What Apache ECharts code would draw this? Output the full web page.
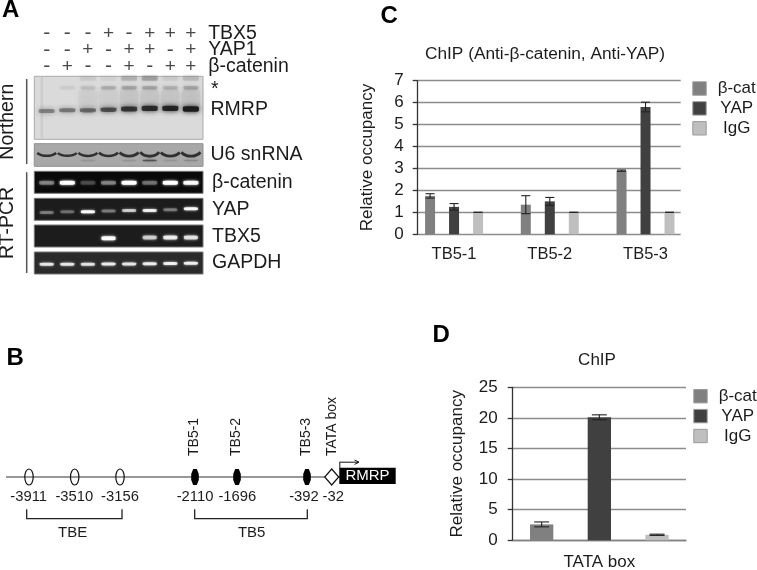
<!DOCTYPE html>
<html><head><meta charset="utf-8">
<style>html,body{margin:0;padding:0;background:#fff}#c{width:757px;height:570px;filter:blur(0.45px)}</style>
<script src="https://cdn.jsdelivr.net/npm/echarts@6/dist/echarts.min.js"></script>
</head><body><div id="c"></div>
<script>
// ---------- panel C / D data ----------
const siteCats = ['TB5-1','TB5-2','TB5-3'];
const cBeta = [1.75,1.35,2.9];
const cYap  = [1.25,1.5,5.8];
const cIgg  = [1,1,1];
const cBetaErr = [0.1,0.41,0.03];
const cYapErr  = [0.15,0.18,0.22];
const cIggErr  = [0,0,0];
const tataCats = ['TATA box'];
const dBeta = [2.6];
const dYap  = [20.1];
const dIgg  = [0.9];
const dBetaErr = [0.4];
const dYapErr  = [0.4];
const dIggErr  = [0.1];
const seriesNames = ['β-cat','YAP','IgG'];
// ---------- panel A data ----------
const lanes = ['1','2','3','4','5','6','7','8'];
const signRows = ['β-catenin','YAP1','TBX5'];
const signTbx5 = ['-','-','-','+','-','+','+','+'];
const signYap1 = ['-','-','+','-','+','+','-','+'];
const signBcat = ['-','+','-','-','+','-','+','+'];
const rmrpBand  = [0.36,0.42,0.48,0.62,0.78,0.85,0.9,1];
const rmrpPos   = [0.55,0.54,0.54,0.53,0.52,0.51,0.51,0.52];
const starBand  = [0,0.05,0.09,0.16,0.2,0.2,0.15,0.2];
const topBand   = [0,0,0.06,0.03,0.16,0.24,0.06,0.13];
const smearBand = [0,0,0.05,0.05,0.09,0.09,0.09,0.1];
const u6Band    = [0.6,0.55,0.65,0.75,0.8,0.95,0.8,0.9];
const u6Lower   = [0,0,0.1,0,0.1,0.6,0.1,0.18];
const bcatBand  = [0.32,1,0.16,0.32,1,0.27,1,0.92];
const yapBand   = [0.28,0.24,0.95,0.28,0.6,0.82,0.28,0.9];
const yapPos    = [0.64,0.61,0.61,0.58,0.56,0.55,0.52,0.48];
const tbx5Band  = [0,0,0,0.95,0,0.6,0.78,0.72];
const tbx5Pos   = [0.6,0.6,0.6,0.6,0.6,0.57,0.57,0.57];
const gapdhBand = [0.75,0.75,0.72,0.78,0.75,0.8,0.82,0.82];
const gapdhPos  = [0.56,0.56,0.56,0.55,0.55,0.53,0.52,0.51];
const flat = v => lanes.map(() => v);
// ---------- panel B labels ----------
const siteLabels = ['-3911','-3510','-3156','-2110','-1696','-392','-32'];

const FONT = '"Liberation Sans", Arial, sans-serif';
const INK = '#1c1c1c';
const C_COLORS = ['#808080','#404040','#bfbfbf'];

// ---------- layout helpers ----------
const grids=[],xAxes=[],yAxes=[],series=[];
function addGrid(g,x,y){g.outerBoundsMode='none';grids.push(g);xAxes.push(Object.assign({gridIndex:grids.length-1},x));yAxes.push(Object.assign({gridIndex:grids.length-1},y));return grids.length-1;}
const LANE_L=36.4, LANE_W=164.8;
const hiddenLane={type:'category',data:lanes,show:false};
const hiddenFrac={type:'value',min:0,max:1,inverse:true,show:false};
function gelGrid(top,h){return addGrid({left:LANE_L,width:LANE_W,top:top,height:h},hiddenLane,hiddenFrac);}
function bands(gi,vals,pos,color,w,h,blur,grow){
  series.push({type:'scatter',xAxisIndex:gi,yAxisIndex:gi,symbol:'roundRect',silent:true,z:3,
    data:vals.map((v,i)=>({value:[i,pos[i]],symbolSize:[w,h+(grow||0)*v],itemStyle:{color:color,opacity:v,shadowBlur:blur,shadowColor:color}})).filter((d,i)=>vals[i]>0)});
}
// sign table
const gSigns=addGrid({left:LANE_L,width:LANE_W,top:25,height:50},hiddenLane,
 {type:'category',data:signRows,position:'right',axisLine:{show:false},axisTick:{show:false},
  axisLabel:{margin:7,interval:0,hideOverlap:false,fontFamily:FONT,fontSize:19.5,color:INK,align:'left',lineHeight:16}});
[signBcat,signYap1,signTbx5].forEach((row,r)=>{
  series.push({type:'scatter',xAxisIndex:gSigns,yAxisIndex:gSigns,symbolSize:0,silent:true,
    data:row.map((s,i)=>({value:[i,r],label:{show:true,position:'inside',formatter:s,fontFamily:FONT,fontSize:s==='+'?19:21,color:INK}}))});
});
// northern
const gN=gelGrid(76.3,63);
bands(gN,smearBand,flat(0.37),'#555555',19,22,6);
bands(gN,topBand,flat(0.03),'#444444',16,5,3);
bands(gN,starBand,flat(0.18),'#333333',15,3.5,3);
bands(gN,rmrpBand,rmrpPos,'#1c1c1c',16,3,5,2.5);
// U6
const gU=gelGrid(143.7,22.6);
series.push({type:'custom',xAxisIndex:gU,yAxisIndex:gU,silent:true,z:3,
  data:u6Band.map((v,i)=>[i,0.5,v]),
  renderItem(p,api){const c=api.coord([api.value(0),api.value(1)]),v=api.value(2);const d=0.5+v*2.5;
    return {type:'bezierCurve',shape:{x1:c[0]-9.5,y1:c[1]-d,cpx1:c[0]-5,cpy1:c[1]+d*0.9,cpx2:c[0]+5,cpy2:c[1]+d*0.9,x2:c[0]+9.5,y2:c[1]-d},
      style:{fill:null,stroke:'#222222',lineWidth:1.8+v*1.1,opacity:0.9}};}});
bands(gU,u6Lower,flat(0.74),'#333333',14,1.5,2);
// RT-PCR
const gB=gelGrid(171.3,22);bands(gB,bcatBand,flat(0.52),'#ffffff',15,4,3);
const gY=gelGrid(198.3,22);bands(gY,yapBand,yapPos,'#ffffff',14,3,2.5);
const gT=gelGrid(225,22);bands(gT,tbx5Band,tbx5Pos,'#ffffff',14,4,3);
const gG=gelGrid(252,22);bands(gG,gapdhBand,gapdhPos,'#ffffff',14,3,2.5);

// ---------- bar charts ----------
const axisText={fontFamily:FONT,fontSize:17,color:INK};
function valueY(max,interval,gap,margin){return {type:'value',min:0,max:max,interval:interval,
  axisLine:{show:true,lineStyle:{color:'#333333',width:1.3}},axisTick:{show:true,length:5,lineStyle:{color:'#333333',width:1.3}},
  axisLabel:Object.assign({margin:margin},axisText),splitLine:{show:true,lineStyle:{color:'#8c8c8c',width:1.4}},
  name:'Relative occupancy',nameLocation:'middle',nameGap:gap,nameTextStyle:Object.assign({},axisText)};}
// panel C: frame grid + bar grid sharing the same y scale
addGrid({left:417.7,width:263,top:80.7,height:153.6},
  {type:'value',min:0,max:1,axisLine:{show:false},axisTick:{show:false},axisLabel:{show:false},splitLine:{show:false}},
  valueY(7,1,42,14));
const gC=addGrid({left:406.2,width:287.2,top:80.7,height:153.6},
  {type:'category',data:siteCats,axisLine:{show:false},axisTick:{show:false},axisLabel:Object.assign({margin:12},axisText,{fontSize:16.5})},
  {type:'value',min:0,max:7,interval:1,show:false});
const gD=addGrid({left:512.7,width:173.3,top:387.3,height:153},
  {type:'category',data:tataCats,axisLine:{show:true,lineStyle:{color:'#808080',width:1.4}},axisTick:{show:false},axisLabel:Object.assign({margin:14},axisText)},
  valueY(25,5,47,15));

function barSet(gi,vals,errs,barW,gapPct,capHalf){
  const step=barW*(1+gapPct/100);
  vals.forEach((v,k)=>{
    series.push({type:'bar',name:seriesNames[k],xAxisIndex:gi,yAxisIndex:gi,data:v,barWidth:barW,barGap:gapPct+'%',
      itemStyle:{color:C_COLORS[k]},z:3});
  });
  errs.forEach((e,k)=>{
    series.push({type:'custom',xAxisIndex:gi,yAxisIndex:gi,silent:true,z:4,
      data:vals[k].map((v,i)=>[i,v,e[i]]),
      renderItem(p,api){
        const off=(k-1)*step, v=api.value(1), er=api.value(2);
        const hi=api.coord([api.value(0),v+er]), lo=api.coord([api.value(0),v-er]);
        const x=hi[0]+off;
        const s={stroke:'#222222',lineWidth:1.1};
        return {type:'group',children:[
          {type:'line',shape:{x1:x,y1:hi[1],x2:x,y2:lo[1]},style:s},
          {type:'line',shape:{x1:x-capHalf,y1:hi[1],x2:x+capHalf,y2:hi[1]},style:s},
          {type:'line',shape:{x1:x-capHalf,y1:lo[1],x2:x+capHalf,y2:lo[1]},style:s}]};
      }});
  });
}
barSet(gC,[cBeta,cYap,cIgg],[cBetaErr,cYapErr,cIggErr],10,140,4.5);
barSet(gD,[dBeta,dYap,dIgg],[dBetaErr,dYapErr,dIggErr],23.3,147.6,7.5);

function legend(left,top){return {orient:'vertical',left:left,top:top,itemWidth:13.4,itemHeight:13.4,itemGap:2.9,padding:0,selectedMode:false,
  icon:'rect',data:seriesNames,itemStyle:{borderColor:'#9a9a9a',borderWidth:1},
  formatter:'{c|{name}}',
  textStyle:{fontFamily:FONT,fontSize:17,color:INK,rich:{c:{fontFamily:FONT,fontSize:17,color:INK,width:51,align:'center',lineHeight:13.4}}}};}

// ---------- static drawing ----------
const g=[];
const txt=(s,x,y,o)=>g.push(Object.assign({type:'text',x:x,y:y,silent:true,style:Object.assign({text:s,fontFamily:FONT,fontSize:19.5,fill:INK,align:'left',verticalAlign:'middle'},o||{})}));
const rot=(s,x,y,size,align)=>g.push({type:'text',x:x,y:y,rotation:Math.PI/2,silent:true,style:{text:s,fontFamily:FONT,fontSize:size,fill:INK,align:align,verticalAlign:'middle'}});
const rect=(x,y,w,h,fill,stroke)=>g.push({type:'rect',silent:true,shape:{x:x,y:y,width:w,height:h},style:{fill:fill,stroke:stroke||null,lineWidth:1}});
const line=(x1,y1,x2,y2,c,w)=>g.push({type:'line',silent:true,shape:{x1,y1,x2,y2},style:{stroke:c||'#222',lineWidth:w||1}});
// panel letters
[['A',2,10],['B',6.5,358],['C',380.5,16],['D',432.5,335]].forEach(a=>txt(a[0],a[1],a[2],{fontSize:24,fontWeight:'bold',fill:'#000'}));
// gels
rect(34.3,76.3,168.7,63,'#dadada','#aaaaaa');
rect(40.5,76.8,2.6,62,'#cdcdcd');
rect(34.3,143.7,168.7,22.6,'#a8a8a8','#8f8f8f');
rect(34.3,171.3,168.7,22,'#0a0a0a','#777777');
rect(34.3,198.3,168.7,22,'#1c1c1c','#777777');
rect(34.3,225,168.7,22,'#1c1c1c','#777777');
rect(34.3,252,168.7,22,'#2a2a2a','#777777');
line(26.7,79,26.7,164,'#555',1.5); line(26.7,172.3,26.7,273,'#555',1.5);
rot('Northern',8,121.7,19.5,'center'); rot('RT-PCR',8,223,19.5,'center');
txt('*',211,90); txt('RMRP',210.5,110); txt('U6 snRNA',210.5,155); txt('β-catenin',212,183);
txt('YAP',212,209.7); txt('TBX5',212,237); txt('GAPDH',212,263);
// panel B
line(6,477,340,477,'#333',1);
[29,74.7,120].forEach(x=>g.push({type:'ellipse',silent:true,shape:{cx:x,cy:477,rx:4.2,ry:8},style:{fill:null,stroke:'#111',lineWidth:1.2}}));
[195,237,307].forEach(x=>g.push({type:'polygon',silent:true,shape:{points:[[x-1.8,469],[x+1.8,469],[x+3.8,474],[x+3.8,480],[x+1.8,485],[x-1.8,485],[x-3.8,480],[x-3.8,474]]},style:{fill:'#000'}}));
g.push({type:'polygon',silent:true,shape:{points:[[331.7,469],[338.7,477],[331.7,485],[324.7,477]]},style:{fill:'#fff',stroke:'#111',lineWidth:1.2}});
rect(339.3,467.7,56.4,16.3,'#000');
txt('RMRP',367.5,476,{fill:'#fff',fontSize:15,align:'center'});
line(339.8,468,339.8,462.2,'#111',1); line(339.5,462.2,359,462.2,'#111',1);
g.push({type:'polyline',silent:true,shape:{points:[[354.5,460],[359,462.2],[354.5,464.4]]},style:{fill:null,stroke:'#111',lineWidth:1}});
[28.7,74.3,120,195,237.3,304,333.3].forEach((x,i)=>txt(siteLabels[i],x,496.7,{fontSize:14.8,align:'center'}));
[[26.7,122],[194.7,307.3]].forEach(b=>g.push({type:'polyline',silent:true,shape:{points:[[b[0],509.3],[b[0],518.7],[b[1],518.7],[b[1],509.3]]},style:{fill:null,stroke:'#222',lineWidth:1.3}}));
txt('TBE',72.7,533,{fontSize:15,align:'center'}); txt('TB5',251.7,533,{fontSize:15,align:'center'});
[['TB5-1',193.7],['TB5-2',235.7],['TB5-3',305.7],['TATA box',331.7]].forEach(a=>rot(a[0],a[1],456,14,'left'));

const chart=echarts.init(document.getElementById('c'),null,{renderer:'canvas'});
chart.setOption({animation:false,backgroundColor:'#fff',
  title:[
    {text:'ChIP (Anti-β-catenin, Anti-YAP)',left:545,top:46,textAlign:'center',padding:0,textStyle:{fontFamily:FONT,fontSize:17.3,fontWeight:'normal',color:INK}},
    {text:'ChIP',left:597,top:352,textAlign:'center',padding:0,textStyle:{fontFamily:FONT,fontSize:17,fontWeight:'normal',color:INK}}],
  legend:[legend(692.3,80),legend(693.3,387.7)],
  grid:grids,xAxis:xAxes,yAxis:yAxes,series:series,graphic:{elements:g}});
</script></body></html>
